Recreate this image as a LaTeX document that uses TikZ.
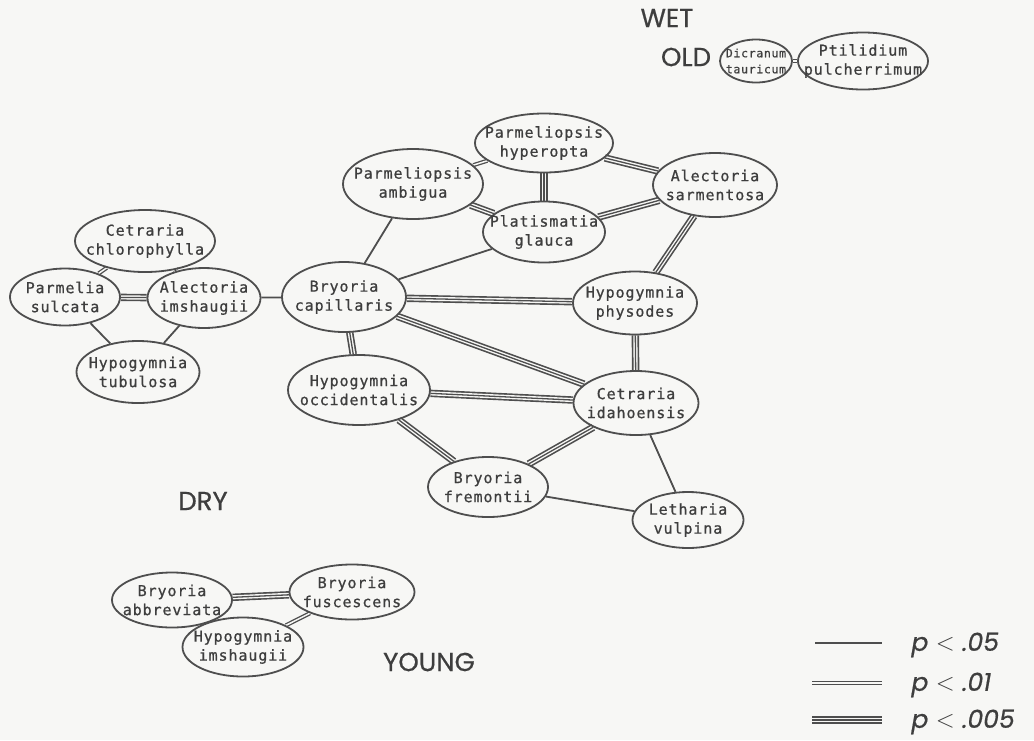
\documentclass[tikz,border=0pt]{standalone}
\usepackage{fontspec}
\usepackage{xcolor}
\usepackage{tikz}
\usetikzlibrary{shapes.geometric}
\newfontfamily\spmono[LetterSpace=6,FakeBold=0.8]{DejaVu Sans Mono}
\newfontfamily\capsfont[FakeBold=0.6]{Poppins}
\definecolor{paper}{HTML}{F7F7F5}
\definecolor{ink}{HTML}{4E4E4E}
\definecolor{txt}{HTML}{3E3E3E}
\pgfdeclarelayer{back}
\pgfsetlayers{back,main}
\tikzset{
  sp/.style 2 args={ellipse, draw=ink, line width=1.8pt, minimum width=#1, minimum height=#2, inner sep=0pt},
  spname/.style={text=txt, font=\spmono\fontsize{15}{19}\selectfont, align=center, inner sep=0pt},
  spsmall/.style={spname, font=\spmono\fontsize{11.5}{16}\selectfont},
  lab/.style={text=txt, font=\capsfont\fontsize{26}{30}\selectfont},
  keylab/.style={text=txt, font=\capsfont\itshape\fontsize{25}{30}\selectfont, anchor=west},
  one/.style={draw=ink, line width=1.8pt},
  two/.style={draw=ink, double=paper, line width=1.3pt, double distance=1.5pt},
  three/.style={preaction={draw=ink, line width=7.4pt}, draw=paper, line width=1.4pt, double=ink, double distance=1.3pt},
}

\begin{document}
\begin{tikzpicture}[x=1pt,y=-1pt]
  \useasboundingbox (0,0) rectangle (1034,740);

  % species
  \node[sp={72pt}{43pt}, label={[spsmall]center:{Dicranum\\tauricum}}] (dic) at (756,61) {};
  \node[sp={130pt}{57pt}, label={[spname]center:{Ptilidium\\pulcherrimum}}] (pti) at (863,61) {};
  \node[sp={138pt}{59pt}, label={[spname]center:{Parmeliopsis\\hyperopta}}] (hyp) at (544,143) {};
  \node[sp={140pt}{70pt}, label={[spname]center:{Parmeliopsis\\ambigua}}] (amb) at (413,184) {};
  \node[sp={124pt}{64pt}, label={[spname]center:{Alectoria\\sarmentosa}}] (sar) at (715,185) {};
  \node[sp={122pt}{61pt}, label={[spname]center:{Platismatia\\glauca}}] (pla) at (544,232) {};
  \node[sp={140pt}{62pt}, label={[spname]center:{Cetraria\\chlorophylla}}] (chl) at (145,241) {};
  \node[sp={110pt}{57pt}, label={[spname]center:{Parmelia\\sulcata}}] (sul) at (65,297) {};
  \node[sp={113pt}{60pt}, label={[spname]center:{Alectoria\\imshaugii}}] (ims) at (204,298) {};
  \node[sp={123pt}{62pt}, label={[spname]center:{Hypogymnia\\tubulosa}}] (tub) at (138,372) {};
  \node[sp={124pt}{70pt}, label={[spname]center:{Bryoria\\capillaris}}] (cap) at (344,297) {};
  \node[sp={124pt}{63pt}, label={[spname]center:{Hypogymnia\\physodes}}] (phy) at (635,303) {};
  \node[sp={142pt}{70pt}, label={[spname]center:{Hypogymnia\\occidentalis}}] (occ) at (359,390) {};
  \node[sp={125pt}{64pt}, label={[spname]center:{Cetraria\\idahoensis}}] (ida) at (636,403) {};
  \node[sp={120pt}{60pt}, label={[spname]center:{Bryoria\\fremontii}}] (fre) at (488,487) {};
  \node[sp={111pt}{56pt}, label={[spname]center:{Letharia\\vulpina}}] (let) at (688,520) {};
  \node[sp={120pt}{55pt}, label={[spname]center:{Bryoria\\abbreviata}}] (abb) at (172,600) {};
  \node[sp={125pt}{55pt}, label={[spname]center:{Bryoria\\fuscescens}}] (fus) at (352,592) {};
  \node[sp={121pt}{59pt}, label={[spname]center:{Hypogymnia\\imshaugii}}] (him) at (243,647) {};

  % habitat labels
  \node[lab] (wet) at (667,18) {WET};
  \node[lab] (old) at (686,57) {OLD};
  \node[lab] (dry) at (203,501) {DRY};
  \node[lab] (young) at (429,662) {YOUNG};

  % legend
  \coordinate (k1a) at (815,643); \coordinate (k1b) at (882,643);
  \coordinate (k2a) at (812,683); \coordinate (k2b) at (882,683);
  \coordinate (k3a) at (812,720); \coordinate (k3b) at (882,720);
  \node[keylab] (k1) at (908,645) {p $<$ .05};
  \node[keylab] (k2) at (908,685) {p $<$ .01};
  \node[keylab] (k3) at (908,722) {p $<$ .005};

  \begin{pgfonlayer}{back}
    \fill[paper] (0,0) rectangle (1034,740);
    \draw[one] (k1a) -- (k1b);
    \draw[two] (k2a) -- (k2b);
    \draw[three] (k3a) -- (k3b);

    \draw[two] (dic) -- (pti);
    \draw[two] (chl) -- (sul);
    \draw[three] (chl) -- (ims);
    \draw[three] (sul) -- (ims);
    \draw[one] (sul) -- (tub);
    \draw[one] (ims) -- (tub);
    \draw[one] (ims) -- (cap);
    \draw[one] (cap) -- (amb);
    \draw[one] (cap) -- (pla);
    \draw[three] (cap) -- (phy);
    \draw[three] (cap) -- (ida);
    \draw[three] (cap) -- (occ);
    \draw[two] (amb) -- (hyp);
    \draw[three] (amb) -- (pla);
    \draw[three] (hyp) -- (pla);
    \draw[three] (hyp) -- (sar);
    \draw[three] (pla) -- (sar);
    \draw[three] (sar) -- (phy);
    \draw[three] (phy) -- (ida);
    \draw[three] (occ) -- (ida);
    \draw[three] (occ) -- (fre);
    \draw[three] (fre) -- (ida);
    \draw[one] (fre) -- (let);
    \draw[one] (ida) -- (let);
    \draw[three] (abb) -- (fus);
    \draw[two] (fus) -- (him);
  \end{pgfonlayer}
\end{tikzpicture}
\end{document}
